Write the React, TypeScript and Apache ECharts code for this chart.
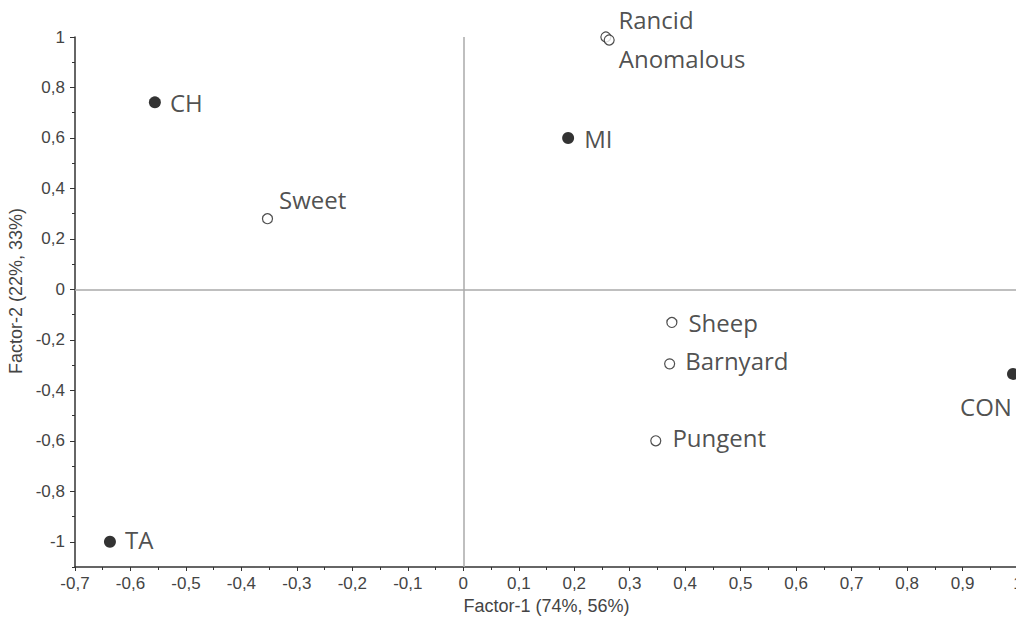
import React, { useEffect, useRef } from "react";
import * as echarts from "echarts";

const filledNames = ["CH", "MI", "TA", "CON"];
const filledX = [-0.556, 0.189, -0.637, 0.991];
const filledY = [0.741, 0.6, -1.0, -0.335];

const openNames = ["Rancid", "Anomalous", "Sweet", "Sheep", "Barnyard", "Pungent"];
const openX = [0.257, 0.263, -0.353, 0.376, 0.372, 0.347];
const openY = [1.0, 0.988, 0.28, -0.131, -0.295, -0.6];

const yMajorTicks = [-1, -0.8, -0.6, -0.4, -0.2, 0, 0.2, 0.4, 0.6, 0.8, 1];
const yMinorTicks = [-1.1, -0.9, -0.7, -0.5, -0.3, -0.1, 0.1, 0.3, 0.5, 0.7, 0.9];

const xTitle = "Factor-1 (74%, 56%)";
const yTitle = "Factor-2 (22%, 33%)";

const labelStyles: Record<string, any> = {
  CH: { position: "right", distance: 9 },
  MI: { position: "right", distance: 10, offset: [0, 1] },
  TA: { position: "right", distance: 9, offset: [0, -2] },
  CON: { position: "inside", offset: [-27, 33] },
  Rancid: { position: "right", distance: 7, offset: [0, -18] },
  Anomalous: { position: "right", distance: 4, offset: [0, 18] },
  Sweet: { position: "right", distance: 6, offset: [0, -19] },
  Sheep: { position: "right", distance: 11, offset: [0, 0] },
  Barnyard: { position: "right", distance: 10, offset: [0, -3] },
  Pungent: { position: "right", distance: 11, offset: [0, -3] },
};

const fmt = (v: number) => {
  const r = Math.round(v * 10) / 10;
  return String(r).replace(".", ",");
};

function makeData(names: string[], xs: number[], ys: number[]) {
  return names.map((n, i) => ({
    name: n,
    value: [xs[i], ys[i]],
    label: { show: true, ...labelStyles[n] },
  }));
}

export default function App() {
  const ref = useRef<HTMLDivElement>(null);
  useEffect(() => {
    document.body.style.margin = "0";
    const chart = echarts.init(ref.current!, null, { renderer: "svg" });
    const labelFont = {
      fontFamily: "Open Sans",
      fontSize: 24,
      color: "#222",
      formatter: "{b}",
    };
    const tickFont = { fontFamily: "Liberation Sans", fontSize: 17, color: "#444" };
    chart.setOption({
      animation: false,
      backgroundColor: "#fff",
      grid: {
        left: 75,
        top: 37,
        bottom: 50,
        right: 12,
        containLabel: false,
        outerBoundsMode: "none",
      },
      xAxis: {
        type: "value",
        min: -0.7,
        max: 1,
        interval: 0.1,
        name: xTitle,
        nameLocation: "middle",
        nameGap: 30,
        nameTextStyle: { fontFamily: "Liberation Sans", fontSize: 18, color: "#444" },
        axisLine: { show: true, onZero: false, lineStyle: { color: "#333", width: 1.5 } },
        axisTick: { show: true, length: 4, lineStyle: { color: "#333" } },
        minorTick: { show: true, splitNumber: 2, length: 3, lineStyle: { color: "#333" } },
        splitLine: { show: false },
        axisLabel: { ...tickFont, margin: 8, formatter: (v: number) => fmt(v) },
      },
      yAxis: [
        {
          type: "value",
          min: -1.1,
          max: 1,
          name: yTitle,
          nameLocation: "middle",
          nameGap: 46,
          nameTextStyle: {
            fontFamily: "Liberation Sans",
            fontSize: 18,
            color: "#444",
            padding: [0, 0, 0, 22],
          },
          axisLine: { show: true, onZero: false, lineStyle: { color: "#333", width: 1.5 } },
          axisTick: { show: true, length: 5, customValues: yMajorTicks, lineStyle: { color: "#333" } },
          splitLine: { show: false },
          axisLabel: {
            ...tickFont,
            margin: 10,
            customValues: yMajorTicks,
            formatter: (v: number) => fmt(v),
          },
        },
        {
          type: "value",
          min: -1.1,
          max: 1,
          position: "left",
          axisLine: { show: false, onZero: false },
          axisTick: { show: true, length: 3, customValues: yMinorTicks, lineStyle: { color: "#333" } },
          axisLabel: { show: false, customValues: yMinorTicks },
          splitLine: { show: false },
        },
      ],
      series: [
        {
          type: "scatter",
          symbol: "circle",
          symbolSize: 12,
          itemStyle: { color: "#000" },
          label: labelFont,
          data: makeData(filledNames, filledX, filledY),
          markLine: {
            silent: true,
            symbol: "none",
            label: { show: false },
            lineStyle: { color: "#aaa", type: "solid", width: 1.5 },
            data: [{ xAxis: 0 }, { yAxis: 0 }],
          },
          z: 3,
        },
        {
          type: "scatter",
          symbol: "circle",
          symbolSize: 10,
          itemStyle: { color: "#fff", borderColor: "#222", borderWidth: 1.2 },
          label: labelFont,
          data: makeData(openNames, openX, openY),
          z: 3,
        },
      ],
    });
    return () => chart.dispose();
  }, []);
  return (
    <div
      style={{ position: "absolute", left: 0, top: 0, width: 1016, height: 617, overflow: "hidden" }}
    >
      <div ref={ref} style={{ width: 1030, height: 617 }} />
    </div>
  );
}
